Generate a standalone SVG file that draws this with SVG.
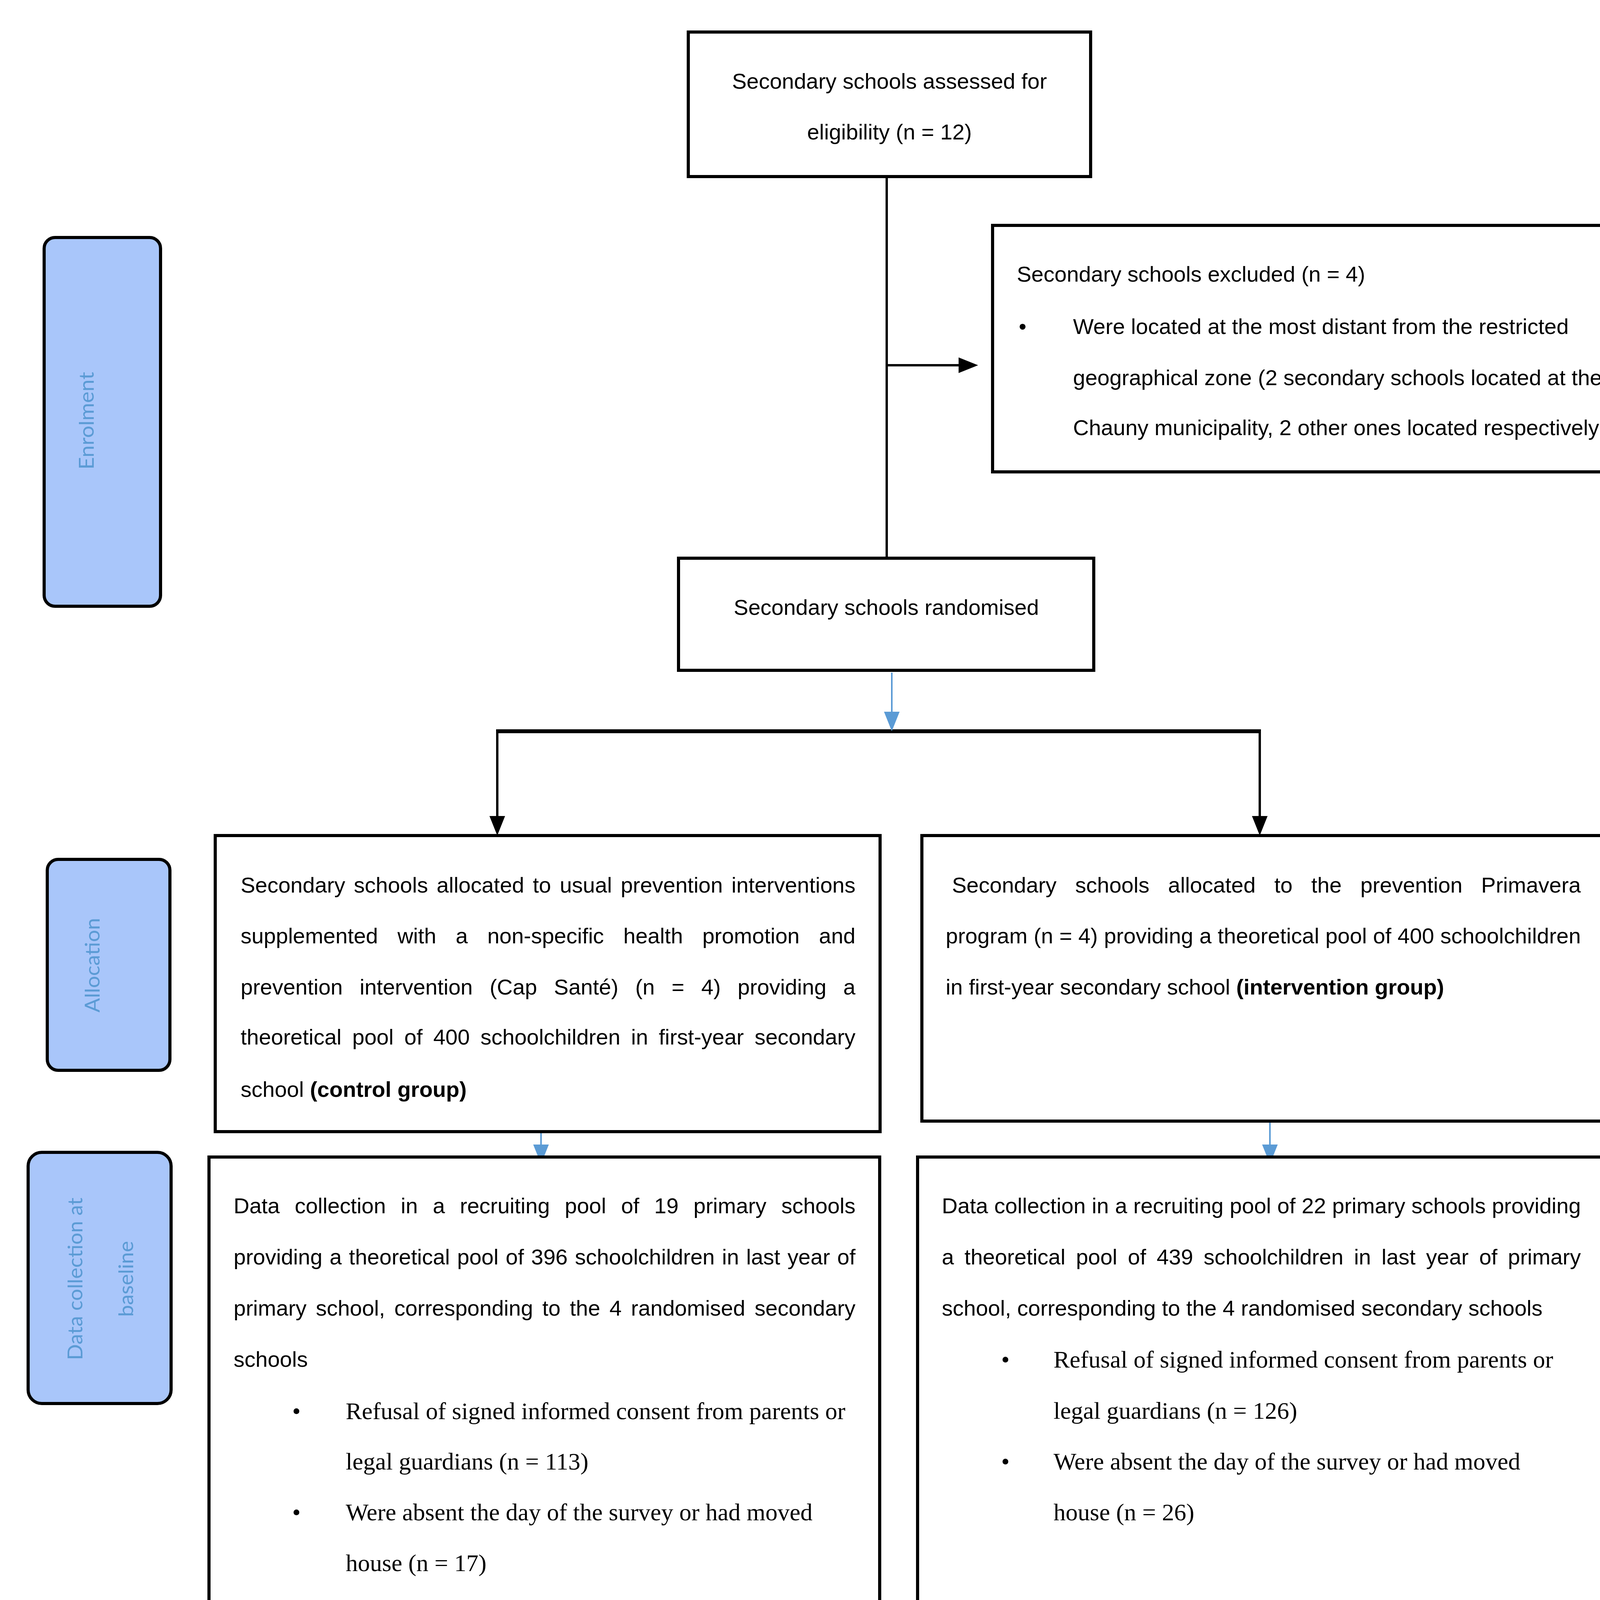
<svg xmlns="http://www.w3.org/2000/svg" width="4342" height="5266" viewBox="0 0 4342 5266">
<style>
.box{fill:#fff;stroke:#000;stroke-width:8}
.lbl{fill:#a9c6fa;stroke:#000;stroke-width:8}
.t{font-family:"Liberation Sans",Arial,sans-serif;font-size:56px;fill:#000}
.s{font-family:"Liberation Serif","Times New Roman",serif;font-size:62px;fill:#000}
.b{font-weight:bold}
.lt{font-family:Lato,"Open Sans",sans-serif;font-size:52px;fill:#5b9bd5;text-anchor:middle}
.ln{stroke:#000;stroke-width:6;fill:none}
.bl{stroke:#5b9bd5;stroke-width:4;fill:none}
</style>
<defs>
<marker id="ah" viewBox="0 0 50 40" refX="30" refY="20" markerWidth="50" markerHeight="40" markerUnits="userSpaceOnUse" orient="auto"><path d="M0,0 L50,20 L0,40 Z" fill="#000"/></marker>
<marker id="ab" viewBox="0 0 50 40" refX="30" refY="20" markerWidth="50" markerHeight="40" markerUnits="userSpaceOnUse" orient="auto"><path d="M0,0 L50,20 L0,40 Z" fill="#5b9bd5"/></marker>
</defs>
<rect width="4342" height="5266" fill="#fff"/>

<g id="connectors">
<line class="ln" x1="2270" y1="452" x2="2270" y2="1429"/>
<line class="ln" x1="2270" y1="935" x2="2484" y2="935" marker-end="url(#ah)"/>
<line class="ln" x1="1270" y1="1872" x2="3228" y2="1872" style="stroke-width:10"/>
<line class="ln" x1="1273" y1="1872" x2="1273" y2="2119" marker-end="url(#ah)"/>
<line class="ln" x1="3225" y1="1872" x2="3225" y2="2119" marker-end="url(#ah)"/>
<line class="bl" x1="2283" y1="1722" x2="2283" y2="1852" marker-end="url(#ab)"/>
<line class="bl" x1="1385" y1="2899" x2="1385" y2="2960" marker-end="url(#ab)"/>
<line class="bl" x1="3251" y1="2872" x2="3251" y2="2960" marker-end="url(#ab)"/>
<line class="bl" x1="1388" y1="4145" x2="1388" y2="4280" marker-end="url(#ab)"/>
<line class="bl" x1="3223" y1="4124" x2="3223" y2="4252" marker-end="url(#ab)"/>
</g>

<g id="n-assessed">
<rect class="box" x="1762" y="82" width="1030" height="370"/>
<text class="t" x="2277" y="227" text-anchor="middle">Secondary schools assessed for</text>
<text class="t" x="2277" y="357" text-anchor="middle">eligibility (n = 12)</text>
</g>

<g id="n-excluded">
<rect class="box" x="2541" y="577" width="1727" height="631"/>
<text class="t" x="2603" y="721">Secondary schools excluded (n = 4)</text>
<text class="t" x="2608" y="855">•</text>
<text class="t" x="2747" y="855">Were located at the most distant from the restricted</text>
<text class="t" x="2747" y="986">geographical zone (2 secondary schools located at the</text>
<text class="t" x="2747" y="1114">Chauny municipality, 2 other ones located respectively at</text>
</g>

<g id="l-enrolment">
<rect class="lbl" x="113" y="608" width="298" height="944" rx="28"/>
<text class="lt" transform="translate(240,1077) rotate(-90)" textLength="250" lengthAdjust="spacingAndGlyphs">Enrolment</text>
</g>

<g id="n-randomised">
<rect class="box" x="1737" y="1429" width="1063" height="287"/>
<text class="t" x="2269" y="1574" text-anchor="middle">Secondary schools randomised</text>
</g>

<g id="l-allocation">
<rect class="lbl" x="121" y="2200" width="314" height="540" rx="28"/>
<text class="lt" transform="translate(255,2471) rotate(-90)" textLength="242" lengthAdjust="spacingAndGlyphs">Allocation</text>
</g>

<g id="n-control">
<rect class="box" x="551" y="2139" width="1702" height="758"/>
<text class="t" x="616" y="2285" word-spacing="6.6" textLength="1574" lengthAdjust="spacing">Secondary schools allocated to usual prevention interventions</text>
<text class="t" x="616" y="2415" word-spacing="34.1" textLength="1574" lengthAdjust="spacing">supplemented with a non-specific health promotion and</text>
<text class="t" x="616" y="2546" word-spacing="27.7" textLength="1574" lengthAdjust="spacing">prevention intervention (Cap Santé) (n = 4) providing a</text>
<text class="t" x="616" y="2674" word-spacing="11.9" textLength="1574" lengthAdjust="spacing">theoretical pool of 400 schoolchildren in first-year secondary</text>
<text class="t" x="616" y="2808">school <tspan class="b">(control group)</tspan></text>
</g>

<g id="n-intervention">
<rect class="box" x="2360" y="2139" width="1752" height="731"/>
<text class="t" x="2437" y="2285" word-spacing="32.3" textLength="1610" lengthAdjust="spacing">Secondary schools allocated to the prevention Primavera</text>
<text class="t" x="2421" y="2415" textLength="1626" lengthAdjust="spacing">program (n = 4) providing a theoretical pool of 400 schoolchildren</text>
<text class="t" x="2421" y="2546">in first-year secondary school <tspan class="b">(intervention group)</tspan></text>
</g>

<g id="l-datacollection">
<rect class="lbl" x="72" y="2950" width="366" height="643" rx="35"/>
<text class="lt" transform="translate(211,3274) rotate(-90)" textLength="416" lengthAdjust="spacingAndGlyphs">Data collection at</text>
<text class="lt" transform="translate(341,3274) rotate(-90)" textLength="194" lengthAdjust="spacingAndGlyphs">baseline</text>
</g>

<g id="n-data-control">
<rect class="box" x="535" y="2962" width="1717" height="1175"/>
<text class="t" x="598" y="3106" word-spacing="22.7" textLength="1592" lengthAdjust="spacing">Data collection in a recruiting pool of 19 primary schools</text>
<text class="t" x="598" y="3237" word-spacing="2.9" textLength="1592" lengthAdjust="spacing">providing a theoretical pool of 396 schoolchildren in last year of</text>
<text class="t" x="598" y="3368" word-spacing="8.2" textLength="1592" lengthAdjust="spacing">primary school, corresponding to the 4 randomised secondary</text>
<text class="t" x="598" y="3499">schools</text>
<text class="s" x="748" y="3633">•</text>
<text class="s" x="885" y="3633">Refusal of signed informed consent from parents or</text>
<text class="s" x="885" y="3762">legal guardians (n = 113)</text>
<text class="s" x="748" y="3892">•</text>
<text class="s" x="885" y="3892">Were absent the day of the survey or had moved</text>
<text class="s" x="885" y="4022">house (n = 17)</text>
</g>

<g id="n-data-intervention">
<rect class="box" x="2349" y="2962" width="1762" height="1161"/>
<text class="t" x="2411" y="3106" textLength="1636" lengthAdjust="spacing">Data collection in a recruiting pool of 22 primary schools providing</text>
<text class="t" x="2411" y="3237" word-spacing="11.4" textLength="1636" lengthAdjust="spacing">a theoretical pool of 439 schoolchildren in last year of primary</text>
<text class="t" x="2411" y="3368">school, corresponding to the 4 randomised secondary schools</text>
<text class="s" x="2563" y="3501">•</text>
<text class="s" x="2697" y="3501">Refusal of signed informed consent from parents or</text>
<text class="s" x="2697" y="3632">legal guardians (n = 126)</text>
<text class="s" x="2563" y="3762">•</text>
<text class="s" x="2697" y="3762">Were absent the day of the survey or had moved</text>
<text class="s" x="2697" y="3892">house (n = 26)</text>
</g>

<g id="l-analysis">
<rect class="lbl" x="84" y="4268" width="366" height="553" rx="40"/>
<text class="lt b" transform="translate(223,4546) rotate(-90)" textLength="396" lengthAdjust="spacingAndGlyphs">Analysis at base-</text>
<text class="lt b" transform="translate(358,4546) rotate(-90)" textLength="85" lengthAdjust="spacingAndGlyphs">line</text>
</g>

<g id="n-analysis-control">
<rect class="box" x="517" y="4297" width="1735" height="877"/>
<text class="t" x="581" y="4443" word-spacing="25.2" textLength="1607" lengthAdjust="spacing">Questionnaires collected and recorded (n = 266 individual</text>
<text class="t" x="581" y="4573">participants)</text>
<text class="s" x="733" y="4706">•</text>
<text class="s" x="869" y="4706">Were discarded for incoherence in the data</text>
<text class="s" x="869" y="4837">management phase (n = 1)</text>
<text class="t" x="581" y="5095">Were analysed at baseline (n = 265 individual participants)</text>
</g>

<g id="n-analysis-intervention">
<rect class="box" x="2342" y="4274" width="1761" height="878"/>
<text class="t" x="2403" y="4420" word-spacing="29.2" textLength="1635" lengthAdjust="spacing">Questionnaires collected and recorded (n = 287 individual</text>
<text class="t" x="2403" y="4550">participants)</text>
<text class="s" x="2555" y="4683">•</text>
<text class="s" x="2691" y="4683">Were discarded for incoherence in the data</text>
<text class="s" x="2691" y="4815">management phase (n = 4)</text>
<text class="t" x="2403" y="5072">Were analysed at baseline (n = 283 individual participants)</text>
</g>
</svg>
